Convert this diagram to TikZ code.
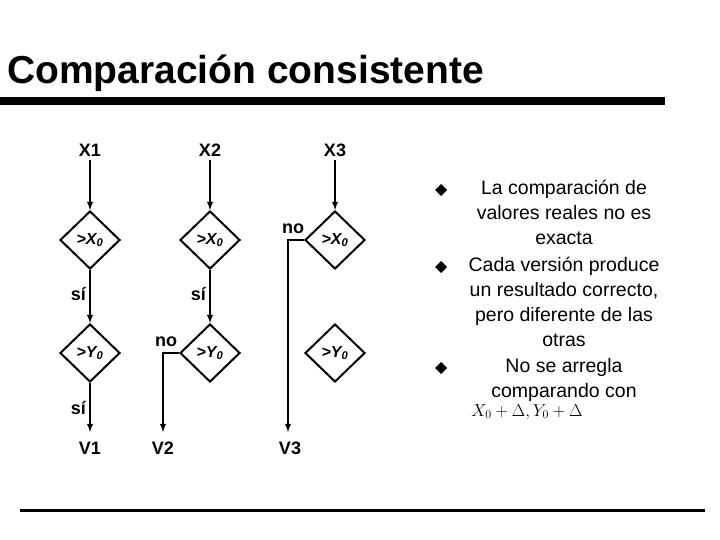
\documentclass[tikz,border=0pt]{standalone}
\usepackage{fontspec}
\setmainfont{Liberation Sans}
\usetikzlibrary{arrows, shapes.geometric}

\tikzset{
  test/.style={diamond, draw, line width=2pt, minimum width=60pt, minimum height=58pt, inner sep=0pt, font=\bfseries\itshape\fontsize{16}{16}\selectfont},
  flow/.style={-latex, line width=1.8pt},
  lbl/.style={font=\bfseries\fontsize{18}{18}\selectfont},
  bul/.style={font=\fontsize{19.5}{25}\selectfont, align=center, anchor=north}
}

\begin{document}
\begin{tikzpicture}[x=1pt, y=-1pt]
\useasboundingbox (0,0) rectangle (720,540);

\node[font=\bfseries\fontsize{39}{39}\selectfont, anchor=west, inner sep=0pt] (T) at (7,73) {Comparación consistente};
\fill (0,97) rectangle (665,105);
\fill (20,508.5) rectangle (705,511.5);

\node[lbl] (X1) at (90,150)  {X1};
\node[lbl] (X2) at (210,150) {X2};
\node[lbl] (X3) at (335,150) {X3};

\node[test] (A1) at (90,240)  {>X\textsubscript{0}};
\node[test] (A2) at (210,240) {>X\textsubscript{0}};
\node[test] (A3) at (335,240) {>X\textsubscript{0}};
\node[test] (B1) at (90,353)  {>Y\textsubscript{0}};
\node[test] (B2) at (210,353) {>Y\textsubscript{0}};
\node[test] (B3) at (335,353) {>Y\textsubscript{0}};

\node[lbl] (V1) at (90,448)  {V1};
\node[lbl] (V2) at (163,448) {V2};
\node[lbl] (V3) at (290,448) {V3};

\coordinate (E1) at (90,432);
\coordinate (E2) at (163,432);
\coordinate (E3) at (288,432);
\coordinate (K2) at (163,353);
\coordinate (K3) at (288,240);

\draw[flow] (X1) -- (A1);
\draw[flow] (X2) -- (A2);
\draw[flow] (X3) -- (A3);
\draw[flow] (A1) -- node[lbl, left, pos=0.45] {sí} (B1);
\draw[flow] (A2) -- node[lbl, left, pos=0.45] {sí} (B2);
\draw[flow] (B1) -- node[lbl, left, pos=0.5] {sí} (E1);
\draw[flow] (B2.west) -- (K2) -- (E2);
\draw[flow] (A3.west) -- (K3) -- (E3);
\node[lbl] (N2) at (166,342) {no};
\node[lbl] (N3) at (293,229) {no};

\node[bul] (P1) at (564,177) {La comparación de\\valores reales no es\\exacta};
\node[bul] (P2) at (564,254) {Cada versión produce\\un resultado correcto,\\pero diferente de las\\otras};
\node[bul] (P3) at (564,355) {No se arregla\\comparando con};
\node[font=\fontsize{17}{17}\selectfont] (F) at (527,412) {$X_0+\Delta, Y_0+\Delta$};
\foreach \y in {190,267,368}
  \fill (441,\y-6) -- (447,\y) -- (441,\y+6) -- (435,\y) -- cycle;
\end{tikzpicture}
\end{document}
